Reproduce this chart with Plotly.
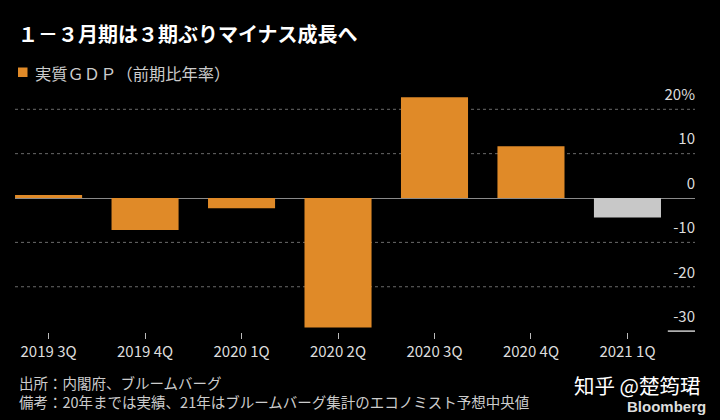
import plotly.graph_objects as go

categories = ["2019 3Q", "2019 4Q", "2020 1Q", "2020 2Q", "2020 3Q", "2020 4Q", "2021 1Q"]
gdp_growth = [0.7, -7.2, -2.3, -29.2, 22.7, 11.7, -4.4]
is_forecast = [False, False, False, False, False, False, True]

y_tick_values = [-30, -20, -10, 0, 10, 20]
y_tick_labels = ["-30", "-20", "-10", "0", "10", "20%"]
grid_values = [-20, -10, 10, 20]

title_text = "１－３月期は３期ぶりマイナス成長へ"
legend_text = "実質ＧＤＰ（前期比年率）"
source_text = "出所：内閣府、ブルームバーグ"
note_text = "備考：20年までは実績、21年はブルームバーグ集計のエコノミスト予想中央値"
watermark_text = "知乎 @楚筠珺"
brand_text = "Bloomberg"

ORANGE = "#E08A28"
GRAY = "#C8C8C8"
FONT = "Noto Sans CJK JP"

colors = [GRAY if f else ORANGE for f in is_forecast]

# plot area geometry (pixels)
PLOT_TOP = 80
PLOT_BOTTOM = 332
PLOT_H = PLOT_BOTTOM - PLOT_TOP
PLOT_W = 680
Y_MIN = -30.2
Y_MAX = Y_MIN + PLOT_H / 4.436


def py(pix_y):
    return 1 + (PLOT_TOP - pix_y) / PLOT_H


def px(pix_x):
    return (pix_x - 15) / PLOT_W


fig = go.Figure()
fig.add_trace(go.Bar(
    x=list(range(len(categories))),
    y=gdp_growth,
    marker=dict(color=colors, line=dict(width=0)),
    name=legend_text,
    showlegend=False,
    width=0.695,
))

shapes = []
for v in grid_values:
    shapes.append(dict(type="line", xref="paper", x0=0, x1=1, yref="y", y0=v, y1=v,
                       line=dict(color="#6a6a6a", width=1, dash="dot"), layer="below"))
# short solid underline under the bottom tick label
shapes.append(dict(type="line", xref="paper", x0=0.96, x1=1, yref="y", y0=-30, y1=-30,
                   line=dict(color="#cccccc", width=1.5), layer="above"))
# legend swatch
shapes.append(dict(type="rect", xref="paper", yref="paper",
                   x0=px(18), x1=px(27.5), y0=py(77), y1=py(67.5),
                   fillcolor=ORANGE, line=dict(width=0)))

fig.update_layout(
    width=720, height=420,
    paper_bgcolor="black", plot_bgcolor="black",
    margin=dict(l=15, r=25, t=PLOT_TOP, b=420 - PLOT_BOTTOM, autoexpand=False),
    font=dict(family=FONT, color="#dddddd", size=15),
    bargap=0.3,
    shapes=shapes,
    showlegend=False,
    title=dict(text=title_text, xref="container", yref="container",
               x=18/720, y=1-35/420, xanchor="left", yanchor="middle",
               font=dict(family=FONT, size=20, color="white", weight="bold")),
    xaxis=dict(
        range=[-0.348, 6.70],
        tickmode="array",
        tickvals=list(range(len(categories))),
        ticktext=categories,
        ticks="outside", ticklen=6, tickcolor="#bbbbbb", tickwidth=1,
        showgrid=False, zeroline=False, showline=False,
        tickfont=dict(family=FONT, size=15, color="#dddddd"),
        fixedrange=True,
    ),
    yaxis=dict(
        range=[Y_MIN, Y_MAX],
        side="right",
        tickmode="array",
        tickvals=y_tick_values,
        ticktext=y_tick_labels,
        ticklabelposition="inside top",
        ticklabelshift=-4,
        ticklabelstandoff=-3,
        showgrid=False,
        zeroline=True, zerolinecolor="#8a8a8a", zerolinewidth=1,
        showline=False, ticks="",
        tickfont=dict(family=FONT, size=15, color="#dddddd"),
        fixedrange=True,
    ),
    annotations=[
        dict(text=legend_text, xref="paper", yref="paper", x=px(33), y=py(73),
             showarrow=False, xanchor="left", yanchor="middle",
             font=dict(family=FONT, size=16.3, color="#cccccc")),
        dict(text=source_text + "<br>" + note_text, xref="paper", yref="paper",
             x=px(17), y=py(392), showarrow=False, align="left",
             xanchor="left", yanchor="middle",
             font=dict(family=FONT, size=14.5, color="#cccccc")),
        dict(text=watermark_text, xref="paper", yref="paper", x=px(703), y=py(385),
             showarrow=False, xanchor="right", yanchor="middle",
             font=dict(family=FONT, size=20.5, color="white")),
        dict(text="<b>" + brand_text + "</b>", xref="paper", yref="paper",
             x=px(708), y=py(406), showarrow=False, xanchor="right", yanchor="middle",
             font=dict(family="Liberation Sans", size=15, color="#dddddd")),
    ],
)

fig.write_html("out.html", config={"displayModeBar": False},
               post_script="document.body.style.margin='0';")
